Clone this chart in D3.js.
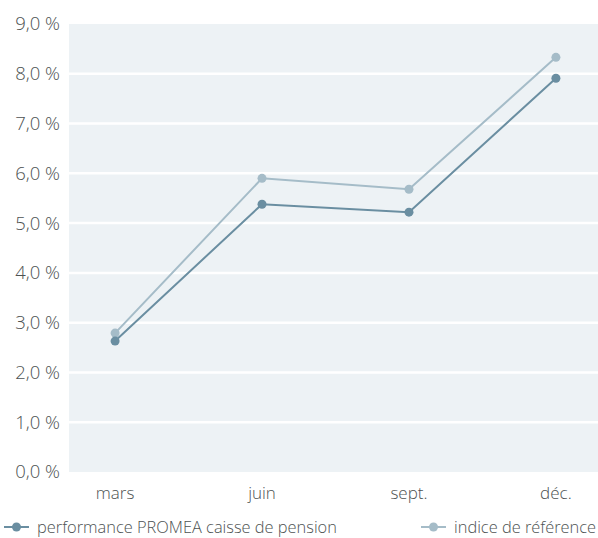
<!DOCTYPE html>
<html>
<head>
<meta charset="utf-8">
<script src="https://cdn.jsdelivr.net/npm/d3@7"></script>
<style>
  body { margin: 0; background: #fff; }
  svg text { font-family: "Open Sans", "Noto Sans", sans-serif; font-weight: 300; fill: #4d5252; }
</style>
</head>
<body>
<div id="chart"></div>
<script>
// Data
const months = ['mars', 'juin', 'sept.', 'déc.'];
const performance = [2.63, 5.38, 5.22, 7.91];
const benchmark = [2.79, 5.90, 5.68, 8.33];
const yTicks = [0, 1, 2, 3, 4, 5, 6, 7, 8, 9];
const seriesNames = ['performance PROMEA caisse de pension', 'indice de référence'];

const W = 598, H = 538;
const margin = { top: 24, right: 0, bottom: 66, left: 69 };
const COL_PERF = '#6a8ea1';
const COL_REF = '#a5bcc8';

const svg = d3.select('#chart').append('svg')
  .attr('width', W).attr('height', H);

const x = d3.scalePoint()
  .domain(months)
  .range([margin.left + 2, W - margin.right + 2])
  .padding(0.3);

const y = d3.scaleLinear()
  .domain([0, 9])
  .range([H - margin.bottom, margin.top]);

// Plot background
svg.append('rect')
  .attr('x', margin.left).attr('y', margin.top)
  .attr('width', W - margin.right - margin.left)
  .attr('height', y(0) - y(9))
  .attr('fill', '#edf2f5');

// Gridlines
svg.append('g')
  .selectAll('line')
  .data(yTicks.filter((d) => d > 0 && d < 9))
  .join('line')
  .attr('x1', margin.left).attr('x2', W - margin.right)
  .attr('y1', (d) => y(d)).attr('y2', (d) => y(d))
  .attr('stroke', '#fff').attr('stroke-width', 2.5);

// Y axis labels
const fmt = (d) => d.toFixed(1).replace('.', ',') + ' %';
svg.append('g')
  .selectAll('text')
  .data(yTicks)
  .join('text')
  .attr('x', 60)
  .attr('y', (d) => y(d))
  .attr('dy', '0.35em')
  .attr('text-anchor', 'end')
  .style('font-size', '18.5px')
  .text(fmt);

// X axis labels
svg.append('g')
  .selectAll('text')
  .data(months)
  .join('text')
  .attr('x', (d) => x(d))
  .attr('y', 499)
  .attr('text-anchor', 'middle')
  .style('font-size', '17px')
  .text((d) => d);

// Lines
const line = d3.line()
  .x((d, i) => x(months[i]))
  .y((d) => y(d));

[[benchmark, COL_REF], [performance, COL_PERF]].forEach(([vals, col]) => {
  svg.append('path')
    .datum(vals)
    .attr('d', line)
    .attr('fill', 'none')
    .attr('stroke', col)
    .attr('stroke-width', 2);

  svg.append('g')
    .selectAll('circle')
    .data(vals)
    .join('circle')
    .attr('cx', (d, i) => x(months[i]))
    .attr('cy', (d) => y(d))
    .attr('r', 4.5)
    .attr('fill', col);
});

// Legend
const legendY = 527;
const legendItems = [
  { name: seriesNames[0], col: COL_PERF, x0: 4 },
  { name: seriesNames[1], col: COL_REF, x0: 421 },
];
legendItems.forEach((it) => {
  const g = svg.append('g');
  g.append('line')
    .attr('x1', it.x0).attr('x2', it.x0 + 25)
    .attr('y1', legendY).attr('y2', legendY)
    .attr('stroke', it.col).attr('stroke-width', 2);
  g.append('circle')
    .attr('cx', it.x0 + 12.5).attr('cy', legendY)
    .attr('r', 4.5).attr('fill', it.col);
  g.append('text')
    .attr('x', it.x0 + 33)
    .attr('y', legendY)
    .attr('dy', '0.35em')
    .style('font-size', '16.4px')
    .text(it.name);
});
</script>
</body>
</html>
